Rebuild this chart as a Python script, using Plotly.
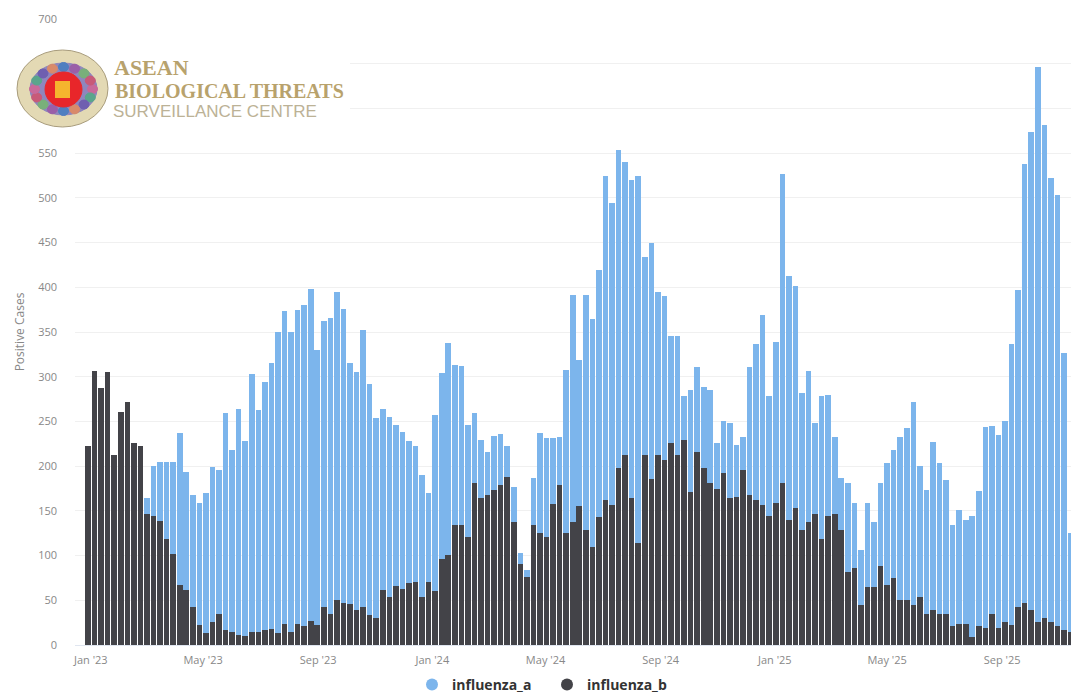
import math
from datetime import datetime, timedelta
import plotly.graph_objects as go

influenza_a = [100,110,115,120,125,130,135,140,150,164,
 200,205,205,205,237,194,168,159,170,199,
 196,259,218,264,228,303,263,294,315,350,
 373,350,375,380,398,330,362,366,395,376,
 315,305,352,292,254,264,255,246,238,228,
 222,190,170,257,304,338,313,312,246,259,
 229,216,234,236,222,177,103,84,187,237,
 231,231,233,308,391,319,391,365,419,524,
 494,553,540,520,524,434,449,395,390,345,
 345,278,285,311,289,285,226,250,248,224,
 233,311,337,369,278,339,527,413,402,282,
 306,248,278,280,233,187,181,159,106,159,
 138,181,203,218,233,243,272,200,173,227,
 203,185,134,151,140,144,172,244,245,235,
 250,337,397,538,574,646,582,522,503,327,
 125]
influenza_b = [223,306,287,305,212,260,272,226,222,147,
 144,139,119,102,67,62,43,22,13,26,
 35,17,14,11,10,15,14,17,18,13,
 24,15,24,21,27,22,43,35,50,47,
 46,39,42,34,30,62,54,66,63,69,
 70,54,71,60,96,101,134,134,121,181,
 164,168,173,179,188,138,91,76,134,125,
 121,158,179,125,137,155,129,110,143,162,
 157,198,212,164,114,212,186,212,207,226,
 212,229,171,216,198,181,175,192,164,166,
 196,168,162,157,144,159,181,140,153,129,
 138,147,118,144,147,129,82,86,45,65,
 65,88,67,75,50,50,45,54,35,39,
 35,35,21,24,24,9,21,19,35,19,
 26,22,43,47,39,26,30,26,21,17,
 14]
first_week = datetime(2022, 12, 29)
weeks = [first_week + timedelta(days=7 * i) for i in range(len(influenza_a))]
tick_dates = ["2023-01-01","2023-05-01","2023-09-01","2024-01-01","2024-05-01",
              "2024-09-01","2025-01-01","2025-05-01","2025-09-01"]
tick_text = ["Jan '23","May '23","Sep '23","Jan '24","May '24","Sep '24","Jan '25","May '25","Sep '25"]
y_ticks = list(range(0, 701, 50))

BLUE, DARK = "#7cb5ec", "#434348"
W, H = 1071, 695
L, R, T, B = 75, 1071, 19, 645   # plot box, in page pixels
px_per_day = 6.55 / 7
bar_ms = 5.6 / px_per_day * 86400000

def X(px): return (px - L) / (R - L)
def Y(py): return (B - py) / (B - T)

fig = go.Figure()
for name, vals, col in [("influenza_a", influenza_a, BLUE), ("influenza_b", influenza_b, DARK)]:
    fig.add_bar(x=weeks, y=vals, name=name, width=bar_ms, marker=dict(color=col, line=dict(width=0)),
                legendgroup=name, showlegend=False)
for name, col in [("influenza_a", BLUE), ("influenza_b", DARK)]:
    fig.add_scatter(x=[None], y=[None], mode="markers", name=name, legendgroup=name,
                    marker=dict(color=col, size=12, symbol="circle"))

def ell(x0, y0, x1, y1, fill, line=None):
    return dict(type="circle", xref="paper", yref="paper", x0=X(x0), x1=X(x1), y0=Y(y1), y1=Y(y0),
                fillcolor=fill, line=dict(color=line or fill, width=1), layer="above")

shapes = [dict(type="rect", xref="paper", yref="paper", x0=X(12), x1=X(350), y0=Y(130), y1=Y(44),
               fillcolor="white", line=dict(width=0), layer="above"),
          ell(17, 50, 108, 127, "#e3d9b4", "#a89c7c"),
          ell(30, 63, 97, 115, "#8f86bd")]
ring_colors = ["#c86a9a", "#5aa58c", "#6f5fb0", "#d98a6a", "#4f7fc0", "#9a5fa8", "#79b07a", "#c85a78"]
for k, c in enumerate(ring_colors * 2):
    a = 2 * math.pi * k / 16
    cx, cy = 63.5 + 29 * math.cos(a), 89 + 22 * math.sin(a)
    shapes.append(ell(cx - 5, cy - 4.5, cx + 5, cy + 4.5, c))
shapes.append(ell(45, 72, 82, 107, "#e8262a"))
shapes.append(dict(type="rect", xref="paper", yref="paper", x0=X(55), x1=X(70), y0=Y(98), y1=Y(81),
                   fillcolor="#f5b52e", line=dict(width=0), layer="above"))

def txt(s, px, py, size, color, family, bold=False):
    return dict(text=f"<b>{s}</b>" if bold else s, xref="paper", yref="paper", x=X(px), y=Y(py),
                xanchor="left", yanchor="middle", showarrow=False,
                font=dict(size=size, color=color, family=family))

annotations = [
    txt("ASEAN", 112, 67, 22, "#b8a26c", "Liberation Serif", True),
    txt("BIOLOGICAL THREATS", 113, 91, 20, "#b8a26c", "Liberation Serif", True),
    txt("SURVEILLANCE CENTRE", 111, 111, 17, "#bcb296", "Liberation Sans"),
]

fig.update_layout(
    width=W, height=H, autosize=False, barmode="overlay", bargap=0,
    paper_bgcolor="white", plot_bgcolor="white",
    margin=dict(l=L, r=W - R, t=T, b=H - B, pad=0, autoexpand=False),
    font=dict(family="Open Sans", color="#888888", size=12),
    shapes=shapes, annotations=annotations,
    legend=dict(orientation="h", x=547 / W, xanchor="center", xref="container",
                y=1 - 669 / H, yanchor="top", yref="container",
                font=dict(size=14, color="#333333", family="Open Sans", weight="bold"),
                itemwidth=30, entrywidth=90, entrywidthmode="pixels",
                bgcolor="rgba(0,0,0,0)", traceorder="normal"),
    xaxis=dict(type="date",
               range=[first_week + timedelta(days=(L - 88) / px_per_day),
                      first_week + timedelta(days=(R - 88) / px_per_day)],
               tickmode="array", tickvals=tick_dates, ticktext=tick_text, showgrid=False,
               zeroline=False, showline=True, linecolor="#e0e6f0", ticks="", ticklabelstandoff=5,
               tickfont=dict(size=11, color="#888888")),
    yaxis=dict(range=[0, 700], tickmode="array", tickvals=y_ticks, showgrid=True, gridcolor="#f0f0f0",
               gridwidth=1, zeroline=False, showline=False, ticks="", ticklabelstandoff=17,
               tickfont=dict(size=11, color="#888888"),
               title=dict(text="Positive Cases", standoff=10, font=dict(size=12, color="#888888"))),
)
fig.write_html("out.html", config=dict(displayModeBar=False),
               post_script="document.body.style.margin='0';")
